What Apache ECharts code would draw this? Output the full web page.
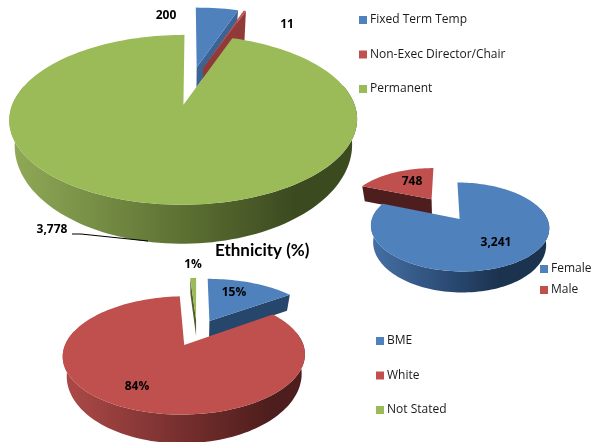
<!DOCTYPE html>
<html>
<head>
<meta charset="utf-8">
<script src="https://cdn.jsdelivr.net/npm/echarts@6/dist/echarts.min.js"></script>
<style>
html, body { margin: 0; background: #fff; }
#main { width: 591px; height: 442px; }
</style>
</head>
<body>
<div id="main"></div>
<script>
const employmentTypes = ['Fixed Term Temp', 'Non-Exec Director/Chair', 'Permanent'];
const employmentCounts = [200, 11, 3778];
const genders = ['Female', 'Male'];
const genderCounts = [3241, 748];
const ethnicities = ['BME', 'White', 'Not Stated'];
const ethnicityPercents = [15, 84, 1];

// office 2007 colours: top face, wall light -> mid -> dark
const blue = { top: '#4f81bd', wall: ['#4a78ae', '#2c4c76', '#1c3350'] };
const red = { top: '#c0504d', wall: ['#a84745', '#6f2c2b', '#4d1e1d'] };
const green = { top: '#9bbb59', wall: ['#8ea856', '#5a6e31', '#3c4a20'] };

const FONT = '"Open Sans", "Noto Sans", sans-serif';

// projection of each pie: c = centre, f/g = x/y radius, k = perspective,
// e = explode, s = x shrink of lower rim, d0/d1 = wall depth
const pie1 = { cx: 190.5, cy: 85.3, f: 164, g: 75.5, k: 0.17, e: 0.25, s: 0.97, d0: 20, d1: 12 };
const pie2 = { cx: 445, cy: 208.8, f: 84, g: 39.5, k: 0.17, e: 0.3, s: 0.97, d0: 15, d1: 3.8 };
const pie3 = { cx: 196.9, cy: 332.5, f: 114.6, g: 53, k: 0.17, e: 0.25, s: 0.97, d0: 16, d1: 8.2 };

function project(pie, u, v, drop) {
    let w = 1 + pie.k * v;
    let f = v / w;
    let x = pie.cx + pie.f * u / w;
    let y = pie.cy - pie.g * f;
    return {
        top: [x, y],
        // wall gets deeper only towards the viewer
        low: [pie.cx + (x - pie.cx) * pie.s, y + pie.d0 + pie.d1 * Math.max(0, -f) + (drop || 0)]
    };
}

function sliceSeries(pie, names, values, index, colors, opts) {
    let total = values.reduce((a, b) => a + b, 0);
    let before = values.slice(0, index).reduce((a, b) => a + b, 0);
    return {
        type: 'custom',
        name: names[index],
        coordinateSystem: 'none',
        silent: true,
        z: opts.z || 2,
        itemStyle: { color: colors.top },
        data: [[values[index]]],
        renderItem: function (params, api) {
            let value = api.value(0);
            let a = before / total * Math.PI * 2;
            let b = (before + value) / total * Math.PI * 2;
            let mid = (a + b) / 2;
            let ox = pie.e * Math.sin(mid);
            let oy = pie.e * Math.cos(mid);
            let arc = [];
            let wallTop = [];
            let wallLow = [];
            let n = Math.max(2, Math.ceil((b - a) * 30));
            for (let i = 0; i <= n; i++) {
                let t = a + (b - a) * i / n;
                let p = project(pie, ox + Math.sin(t), oy + Math.cos(t), opts.drop);
                arc.push(p);
                // back of the rim cannot be seen
                if (Math.cos(t) < 0.25) {
                    wallTop.push(p.top);
                    wallLow.push(p.low);
                }
            }
            let apex = project(pie, ox, oy);
            let tops = arc.map(p => p.top);
            let lows = arc.map(p => p.low);
            let xs = [pie.cx - pie.f * 1.06, pie.cx + pie.f * 1.06];
            let wallFill = new echarts.graphic.LinearGradient(xs[0], 0, xs[1], 0, [
                { offset: 0, color: colors.wall[0] },
                { offset: 0.5, color: colors.wall[1] },
                { offset: 0.8, color: colors.wall[2] },
                { offset: 1, color: colors.wall[2] }
            ], true);
            let cut = opts.cut || colors.wall[2];
            let children = [];
            if (wallTop.length > 1) {
                children.push({ type: 'polygon', shape: { points: wallTop.concat(wallLow.reverse()) }, style: { fill: wallFill } });
            }
            // only the cut faces turned towards the viewer are seen
            if (Math.sin(a) < -1e-6) {
                children.push({ type: 'polygon', shape: { points: [apex.top, tops[0], lows[0], apex.low] }, style: { fill: cut } });
            }
            if (Math.sin(b) > 1e-6) {
                children.push({ type: 'polygon', shape: { points: [apex.top, tops[n], lows[n], apex.low] }, style: { fill: cut } });
            }
            children.push({ type: 'polygon', shape: { points: [apex.top].concat(tops) }, style: { fill: colors.top } });
            if (opts.leader) {
                children.push({
                    type: 'polyline',
                    shape: { points: opts.leader },
                    style: { stroke: '#000', lineWidth: 1.2, fill: null }
                });
            }
            children.push({
                type: 'text',
                style: {
                    x: opts.label[0],
                    y: opts.label[1],
                    text: value.toLocaleString('en-US') + (opts.suffix || ''),
                    font: 'bold 12px ' + FONT,
                    fill: '#000',
                    align: 'center',
                    verticalAlign: 'middle'
                }
            });
            return { type: 'group', children: children };
        }
    };
}

const legendBase = {
    orient: 'vertical',
    icon: 'rect',
    itemWidth: 8,
    itemHeight: 8,
    selectedMode: false,
    padding: 0,
    textStyle: { fontFamily: FONT, fontSize: 12, color: '#1a1a1a', padding: [0, 0, 0, -2] }
};

const chart = echarts.init(document.getElementById('main'), null, { renderer: 'canvas' });
chart.setOption({
    animation: false,
    backgroundColor: '#fff',
    title: {
        text: 'Ethnicity (%)',
        left: 215,
        top: 242,
        padding: 0,
        textStyle: { fontFamily: 'Lato, ' + FONT, fontSize: 17, fontWeight: 'bold', color: '#000' }
    },
    legend: [
        Object.assign({}, legendBase, { data: employmentTypes, left: 359, top: 14, itemGap: 22.5 }),
        Object.assign({}, legendBase, { data: genders, left: 540, top: 263, itemGap: 9 }),
        Object.assign({}, legendBase, { data: ethnicities, left: 376, top: 335, itemGap: 22.5 })
    ],
    series: [
        sliceSeries(pie1, employmentTypes, employmentCounts, 0, blue, { label: [166, 16], cut: '#3a6396' }),
        sliceSeries(pie1, employmentTypes, employmentCounts, 1, red, { label: [287, 25], cut: '#913a38', drop: 14 }),
        sliceSeries(pie1, employmentTypes, employmentCounts, 2, green, {
            label: [52, 230],
            leader: [[72, 234], [81, 234], [148, 241]],
            z: 3
        }),
        sliceSeries(pie2, genders, genderCounts, 1, red, { label: [412, 182], cut: '#4d1e1d' }),
        sliceSeries(pie2, genders, genderCounts, 0, blue, { label: [496, 243], z: 3 }),
        sliceSeries(pie3, ethnicities, ethnicityPercents, 0, blue, { label: [234, 293], suffix: '%', cut: '#27466b' }),
        sliceSeries(pie3, ethnicities, ethnicityPercents, 2, green, { label: [193, 265], suffix: '%', cut: '#4e5f2c' }),
        sliceSeries(pie3, ethnicities, ethnicityPercents, 1, red, { label: [137, 387], suffix: '%', z: 3 })
    ]
});
</script>
</body>
</html>
